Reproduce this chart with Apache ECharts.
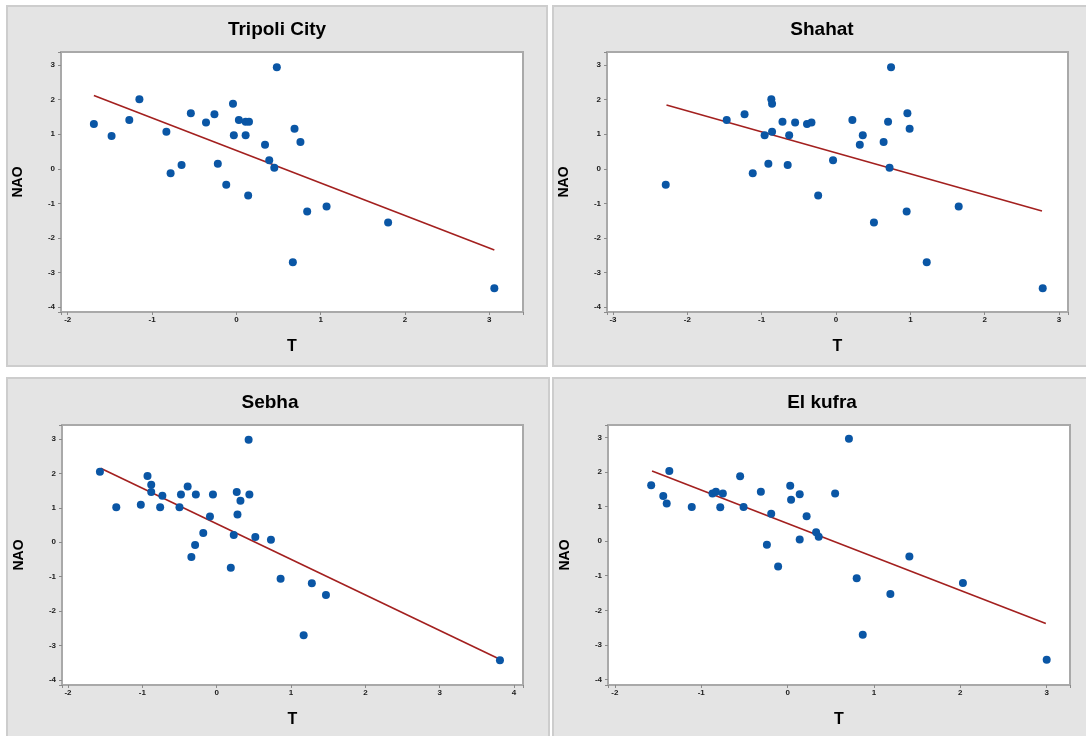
<!DOCTYPE html>
<html><head><meta charset="utf-8">
<script src="https://cdn.jsdelivr.net/npm/echarts@6/dist/echarts.min.js"></script>
<style>html,body{margin:0;padding:0;background:#fff}#c{width:1086px;height:736px}</style>
</head><body><div id="c"></div>
<script>
const titles = ['Tripoli City', 'Shahat', 'Sebha', 'El kufra'];
const xName = 'T';
const yName = 'NAO';

const tripoliT   = [-1.69,-1.48,-1.27,-1.15,-0.83,-0.78,-0.65,-0.54,-0.36,-0.26,-0.22,-0.12,-0.04,-0.03,0.03,0.11,0.15,0.11,0.14,0.34,0.39,0.45,0.48,0.67,0.69,0.76,0.84,1.07,1.80,3.06];
const tripoliNAO = [1.30,0.95,1.41,2.01,1.07,-0.13,0.11,1.61,1.34,1.58,0.15,-0.46,1.88,0.97,1.41,1.36,1.36,0.97,-0.77,0.70,0.25,0.03,2.94,-2.70,1.16,0.78,-1.23,-1.09,-1.55,-3.45];
const tripoliFit = [[-1.69, 2.12], [3.06, -2.35]];

const shahatT   = [-2.29,-1.47,-1.23,-1.12,-0.96,-0.91,-0.87,-0.86,-0.86,-0.72,-0.65,-0.63,-0.55,-0.39,-0.33,-0.24,-0.04,0.22,0.32,0.36,0.51,0.64,0.70,0.72,0.74,0.95,0.96,0.99,1.22,1.65,2.78];
const shahatNAO = [-0.46,1.41,1.58,-0.13,0.97,0.15,2.01,1.88,1.07,1.36,0.11,0.97,1.34,1.30,1.34,-0.77,0.25,1.41,0.70,0.97,-1.55,0.78,1.36,0.03,2.94,-1.23,1.61,1.16,-2.70,-1.09,-3.45];
const shahatFit = [[-2.28, 1.85], [2.77, -1.22]];

const sebhaT   = [-1.57,-1.35,-1.02,-0.93,-0.88,-0.88,-0.76,-0.73,-0.50,-0.48,-0.39,-0.34,-0.29,-0.28,-0.18,-0.09,-0.05,0.19,0.23,0.27,0.28,0.32,0.43,0.44,0.52,0.73,0.86,1.17,1.28,1.47,3.81];
const sebhaNAO = [2.05,1.02,1.09,1.93,1.67,1.46,1.02,1.35,1.02,1.39,1.62,-0.43,-0.08,1.39,0.27,0.75,1.39,-0.74,0.21,1.46,0.81,1.21,2.98,1.39,0.15,0.07,-1.06,-2.70,-1.19,-1.53,-3.43];
const sebhaFit = [[-1.56, 2.15], [3.78, -3.37]];

const kufraT   = [-1.58,-1.44,-1.40,-1.37,-1.11,-0.87,-0.83,-0.75,-0.78,-0.55,-0.51,-0.31,-0.24,-0.19,-0.11,0.03,0.04,0.14,0.14,0.22,0.33,0.36,0.55,0.71,0.80,0.87,1.19,1.41,2.03,3.00];
const kufraNAO = [1.62,1.31,1.09,2.03,0.99,1.38,1.43,1.38,0.98,1.88,0.99,1.43,-0.10,0.79,-0.73,1.60,1.20,1.36,0.05,0.72,0.26,0.13,1.38,2.96,-1.07,-2.71,-1.53,-0.44,-1.21,-3.43];
const kufraFit = [[-1.57, 2.03], [2.99, -2.38]];

const panelsT = [tripoliT, shahatT, sebhaT, kufraT];
const panelsNAO = [tripoliNAO, shahatNAO, sebhaNAO, kufraNAO];
const panelsFit = [tripoliFit, shahatFit, sebhaFit, kufraFit];

// layout (pixels) and axis extents
const grids = [
  {left: 61, top: 52, width: 462, height: 260},
  {left: 607, top: 52, width: 461, height: 260},
  {left: 62, top: 425, width: 461, height: 260},
  {left: 608, top: 425, width: 462, height: 260}
];
const xExt = [[-2.08, 3.40], [-3.08, 3.12], [-2.08, 4.12], [-2.08, 3.27]];
const yExt = [[-4.14, 3.38], [-4.14, 3.38], [-4.15, 3.41], [-4.16, 3.36]];
const panelBoxes = [
  {x: 7, y: 6, w: 540, h: 360},
  {x: 553, y: 6, w: 545, h: 360},
  {x: 7, y: 378, w: 542, h: 370},
  {x: 553, y: 378, w: 545, h: 370}
];
const titlePos = [[277, 30], [822, 30], [270, 403], [822, 403]];

const intFmt = v => (Math.abs(v - Math.round(v)) < 1e-6 ? String(Math.round(v)) : '');
const labelStyle = {fontSize: 8, color: '#1a1a1a', fontFamily: 'Liberation Sans, Arial, sans-serif', fontWeight: 'bold', formatter: intFmt};
const tickStyle = {show: true, length: 3, lineStyle: {color: '#8a8a8a', width: 1}};

const option = {
  animation: false,
  backgroundColor: '#ffffff',
  graphic: [],
  grid: [], xAxis: [], yAxis: [], series: []
};

panelBoxes.forEach(b => {
  option.graphic.push({type: 'rect', z: -100, shape: {x: b.x, y: b.y, width: b.w, height: b.h},
    style: {fill: '#e4e4e4', stroke: '#cdcdcd', lineWidth: 2}});
});
titles.forEach((t, i) => {
  option.graphic.push({type: 'text', z: 100, x: titlePos[i][0], y: titlePos[i][1],
    style: {text: t, fill: '#000', font: 'bold 19px "Liberation Sans", Arial, sans-serif', align: 'center', verticalAlign: 'middle'}});
});

for (let i = 0; i < 4; i++) {
  option.grid.push(Object.assign({show: true, backgroundColor: '#ffffff', borderColor: '#a9a9a9', borderWidth: 2, containLabel: false}, grids[i]));
  option.xAxis.push({
    type: 'value', gridIndex: i, min: xExt[i][0], max: xExt[i][1], splitNumber: 5, minInterval: 1, maxInterval: 1,
    position: 'bottom',
    name: xName, nameLocation: 'middle', nameGap: 27,
    nameTextStyle: {fontSize: 16, fontWeight: 'bold', color: '#000', fontFamily: 'Liberation Sans, Arial, sans-serif'},
    axisLine: {show: false, onZero: false}, splitLine: {show: false}, axisTick: tickStyle,
    axisLabel: Object.assign({margin: 4}, labelStyle)
  });
  option.yAxis.push({
    type: 'value', gridIndex: i, min: yExt[i][0], max: yExt[i][1], splitNumber: 7, minInterval: 1, maxInterval: 1,
    position: 'left',
    name: yName, nameLocation: 'middle', nameGap: 36, nameRotate: 90,
    nameTextStyle: {fontSize: 14, fontWeight: 'bold', color: '#000', fontFamily: 'Liberation Sans, Arial, sans-serif'},
    axisLine: {show: false, onZero: false}, splitLine: {show: false}, axisTick: tickStyle,
    axisLabel: Object.assign({margin: 6}, labelStyle)
  });
  option.series.push({
    type: 'scatter', xAxisIndex: i, yAxisIndex: i, symbol: 'circle', symbolSize: 8,
    itemStyle: {color: '#0a56a5', opacity: 1},
    data: panelsT[i].map((x, k) => [x, panelsNAO[i][k]])
  });
  option.series.push({
    type: 'line', xAxisIndex: i, yAxisIndex: i, showSymbol: false, symbol: 'none',
    lineStyle: {color: '#a3201f', width: 1.6}, z: 1,
    data: panelsFit[i]
  });
}

const chart = echarts.init(document.getElementById('c'), null, {renderer: 'canvas'});
chart.setOption(option);
</script>
</body></html>
